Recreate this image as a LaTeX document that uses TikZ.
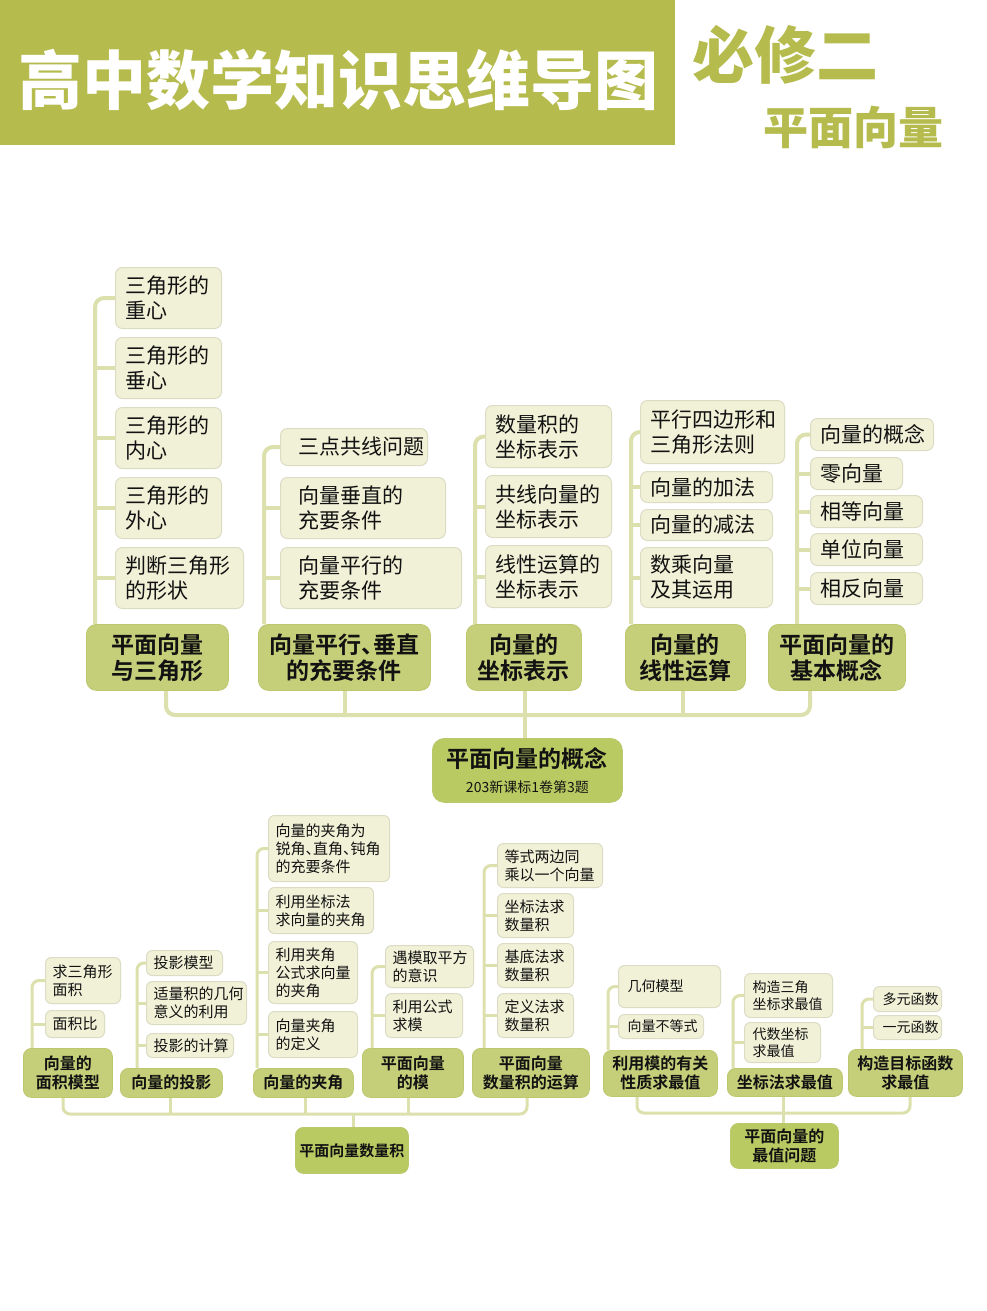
\documentclass[tikz,border=0pt]{standalone}
\usepackage{fontspec}
\setmainfont{Noto Sans CJK SC}[BoldFont={Noto Sans CJK SC Bold}]
\newfontfamily\heavyfont{Noto Sans CJK SC Black}
\definecolor{headgreen}{RGB}{181,187,77}
\definecolor{catfill}{RGB}{197,207,121}
\definecolor{catline}{RGB}{188,199,110}
\definecolor{midfill}{RGB}{186,202,98}
\definecolor{leaffill}{RGB}{241,241,216}
\definecolor{leafline}{RGB}{220,220,196}
\definecolor{linkclr}{RGB}{220,224,172}
\definecolor{txt}{RGB}{18,18,18}
\newcommand{\dunhao}{\makebox[.5em][l]{、}}

\begin{document}
\begin{tikzpicture}[x=1pt, y=-1pt,
    leaf/.style={anchor=north west, rounded corners=7pt, fill=leaffill, draw=leafline, line width=1pt, align=left, inner xsep=10pt, inner ysep=0pt, text=txt},
    bigleaf/.style={leaf, font=\fontsize{21}{25}\selectfont},
    smallleaf/.style={leaf, rounded corners=6pt, inner xsep=7pt, font=\fontsize{15}{18}\selectfont},
    tinyleaf/.style={leaf, rounded corners=6pt, inner xsep=9pt, font=\fontsize{14}{17}\selectfont},
    topic/.style={anchor=north west, rounded corners=10pt, fill=catfill, draw=catline, line width=.8pt, align=center, inner sep=0pt, text=txt, font=\bfseries\fontsize{23}{26}\selectfont},
    subtopic/.style={topic, rounded corners=8pt, font=\bfseries\fontsize{16}{19}\selectfont},
    link/.style={draw=linkclr, line width=4pt, rounded corners=9pt},
    thinlink/.style={draw=linkclr, line width=3pt, rounded corners=7pt}]
    \fill[white] (0,0) rectangle (987,1311);
    \useasboundingbox (0,0) rectangle (987,1311);

    % header
    \fill[headgreen] (0,0) rectangle (675,145);
    \node[white, font=\heavyfont\fontsize{64}{64}\selectfont] (title) at (338,80) {高中数学知识思维导图};
    \node[headgreen, font=\heavyfont\fontsize{62}{62}\selectfont] (book) at (785,55) {必修二};
    \node[headgreen, font=\heavyfont\fontsize{45}{45}\selectfont] (unit) at (853,127) {平面向量};

    % upper map
    \node[bigleaf, text width=86pt, minimum height=61pt] (a1) at (115,267) {三角形的\\重心};
    \node[bigleaf, text width=86pt, minimum height=61pt] (a2) at (115,337) {三角形的\\垂心};
    \node[bigleaf, text width=86pt, minimum height=61pt] (a3) at (115,407) {三角形的\\内心};
    \node[bigleaf, text width=86pt, minimum height=61pt] (a4) at (115,477) {三角形的\\外心};
    \node[bigleaf, text width=108pt, minimum height=61pt] (a5) at (115,547) {判断三角形\\的形状};
    \node[topic, minimum width=142pt, minimum height=66pt] (c1) at (86,624) {平面向量\\与三角形};

    \node[bigleaf, inner xsep=18pt, text width=111pt, minimum height=37pt] (b1) at (280,428) {三点共线问题};
    \node[bigleaf, inner xsep=18pt, text width=129pt, minimum height=61pt] (b2) at (280,477) {向量垂直的\\充要条件};
    \node[bigleaf, inner xsep=18pt, text width=145pt, minimum height=61pt] (b3) at (280,547) {向量平行的\\充要条件};
    \node[topic, minimum width=172pt, minimum height=66pt] (c2) at (258,624) {向量平行\dunhao 垂直\\的充要条件};

    \node[bigleaf, text width=106pt, minimum height=62pt] (d1) at (485,405) {数量积的\\坐标表示};
    \node[bigleaf, text width=106pt, minimum height=62pt] (d2) at (485,475) {共线向量的\\坐标表示};
    \node[bigleaf, text width=106pt, minimum height=62pt] (d3) at (485,545) {线性运算的\\坐标表示};
    \node[topic, minimum width=115pt, minimum height=66pt] (c3) at (466,624) {向量的\\坐标表示};

    \node[bigleaf, text width=124pt, minimum height=63pt] (e1) at (640,400) {平行四边形和\\三角形法则};
    \node[bigleaf, text width=112pt, minimum height=31pt] (e2) at (640,471) {向量的加法};
    \node[bigleaf, text width=112pt, minimum height=31pt] (e3) at (640,509) {向量的减法};
    \node[bigleaf, text width=112pt, minimum height=60pt] (e4) at (640,547) {数乘向量\\及其运用};
    \node[topic, minimum width=120pt, minimum height=66pt] (c4) at (625,624) {向量的\\线性运算};

    \node[bigleaf, text width=103pt, minimum height=32pt] (f1) at (810,418) {向量的概念};
    \node[bigleaf, text width=72pt, minimum height=32pt] (f2) at (810,457) {零向量};
    \node[bigleaf, text width=92pt, minimum height=32pt] (f3) at (810,495) {相等向量};
    \node[bigleaf, text width=92pt, minimum height=32pt] (f4) at (810,533) {单位向量};
    \node[bigleaf, text width=92pt, minimum height=32pt] (f5) at (810,572) {相反向量};
    \node[topic, minimum width=137pt, minimum height=66pt] (c5) at (768,624) {平面向量的\\基本概念};

    \node[topic, fill=midfill, rounded corners=12pt, minimum width=190pt, minimum height=64pt] (cm) at (432,738) {平面向量的概念\\[-1pt]{\mdseries\fontsize{14}{16}\selectfont 203新课标1卷第3题}};

    \coordinate (v1) at (95,0);
    \coordinate (v2) at (264,0);
    \coordinate (v3) at (475,0);
    \coordinate (v4) at (631,0);
    \coordinate (v5) at (797,0);
    \draw[link] (a1.west) -| (v1 |- c1.north);
    \foreach \n in {a2,a3,a4,a5} \draw[link] (\n.west) -- (v1 |- \n.west);
    \draw[link] (b1.west) -| (v2 |- c2.north);
    \foreach \n in {b2,b3} \draw[link] (\n.west) -- (v2 |- \n.west);
    \draw[link] (d1.west) -| (v3 |- c3.north);
    \foreach \n in {d2,d3} \draw[link] (\n.west) -- (v3 |- \n.west);
    \draw[link] (e1.west) -| (v4 |- c4.north);
    \foreach \n in {e2,e3,e4} \draw[link] (\n.west) -- (v4 |- \n.west);
    \draw[link] (f1.west) -| (v5 |- c5.north);
    \foreach \n in {f2,f3,f4,f5} \draw[link] (\n.west) -- (v5 |- \n.west);

    \coordinate (t1) at (166,715);
    \coordinate (t2) at (345,715);
    \coordinate (t3) at (525,715);
    \coordinate (t4) at (683,715);
    \coordinate (t5) at (810,715);
    \draw[link] (t1 |- c1.south) |- (t3) -| (t5 |- c5.south);
    \draw[link] (t2 |- c2.south) -- (t2);
    \draw[link] (t4 |- c4.south) -- (t4);
    \draw[link] (t3 |- c3.south) -- (t3 |- cm.north);

    % lower left map
    \node[smallleaf, text width=61pt, minimum height=46pt] (g1) at (45,957) {求三角形\\面积};
    \node[smallleaf, text width=45pt, minimum height=27pt] (g2) at (45,1010) {面积比};
    \node[subtopic, minimum width=89pt, minimum height=49pt] (h1) at (23,1048) {向量的\\面积模型};

    \node[smallleaf, text width=62pt, minimum height=25pt] (g3) at (146,950) {投影模型};
    \node[smallleaf, text width=86pt, minimum height=43pt] (g4) at (146,981) {适量积的几何\\意义的利用};
    \node[smallleaf, text width=73pt, minimum height=24pt] (g5) at (146,1033) {投影的计算};
    \node[subtopic, minimum width=102pt, minimum height=29pt] (h2) at (120,1068) {向量的投影};

    \node[smallleaf, text width=107pt, minimum height=66pt] (g6) at (268,815) {向量的夹角为\\锐角\dunhao 直角\dunhao 钝角\\的充要条件};
    \node[smallleaf, text width=91pt, minimum height=46pt] (g7) at (268,887) {利用坐标法\\求向量的夹角};
    \node[smallleaf, text width=75pt, minimum height=62pt] (g8) at (268,941) {利用夹角\\公式求向量\\的夹角};
    \node[smallleaf, text width=75pt, minimum height=46pt] (g9) at (268,1011) {向量夹角\\的定义};
    \node[subtopic, minimum width=100pt, minimum height=29pt] (h3) at (253,1068) {向量的夹角};

    \node[smallleaf, text width=74pt, minimum height=42pt] (g10) at (385,945) {遇模取平方\\的意识};
    \node[smallleaf, text width=63pt, minimum height=44pt] (g11) at (385,993) {利用公式\\求模};
    \node[subtopic, minimum width=101pt, minimum height=49pt] (h4) at (362,1048) {平面向量\\的模};

    \node[smallleaf, text width=91pt, minimum height=44pt] (g12) at (497,843) {等式两边同\\乘以一个向量};
    \node[smallleaf, text width=62pt, minimum height=44pt] (g13) at (497,893) {坐标法求\\数量积};
    \node[smallleaf, text width=62pt, minimum height=44pt] (g14) at (497,943) {基底法求\\数量积};
    \node[smallleaf, text width=62pt, minimum height=44pt] (g15) at (497,993) {定义法求\\数量积};
    \node[subtopic, minimum width=117pt, minimum height=49pt] (h5) at (472,1048) {平面向量\\数量积的运算};

    \node[subtopic, fill=midfill, font=\bfseries\fontsize{15}{18}\selectfont, minimum width=113pt, minimum height=46pt] (hm) at (295,1127) {平面向量数量积};

    \coordinate (w1) at (32,0);
    \coordinate (w2) at (137,0);
    \coordinate (w3) at (257,0);
    \coordinate (w4) at (372,0);
    \coordinate (w5) at (484,0);
    \draw[thinlink] (g1.west) -| (w1 |- h1.north);
    \draw[thinlink] (g2.west) -- (w1 |- g2.west);
    \draw[thinlink] (g3.west) -| (w2 |- h2.north);
    \foreach \n in {g4,g5} \draw[thinlink] (\n.west) -- (w2 |- \n.west);
    \draw[thinlink] (g6.west) -| (w3 |- h3.north);
    \foreach \n in {g7,g8,g9} \draw[thinlink] (\n.west) -- (w3 |- \n.west);
    \draw[thinlink] (g10.west) -| (w4 |- h4.north);
    \draw[thinlink] (g11.west) -- (w4 |- g11.west);
    \draw[thinlink] (g12.west) -| (w5 |- h5.north);
    \foreach \n in {g13,g14,g15} \draw[thinlink] (\n.west) -- (w5 |- \n.west);

    \coordinate (s1) at (63,1114);
    \coordinate (s2) at (170,1114);
    \coordinate (s3) at (305,1114);
    \coordinate (s4) at (408,1114);
    \coordinate (s5) at (527,1114);
    \coordinate (sm) at (353,1114);
    \draw[thinlink] (s1 |- h1.south) |- (sm) -| (s5 |- h5.south);
    \draw[thinlink] (s2 |- h2.south) -- (s2);
    \draw[thinlink] (s3 |- h3.south) -- (s3);
    \draw[thinlink] (s4 |- h4.south) -- (s4);
    \draw[thinlink] (sm) -- (sm |- hm.north);

    % lower right map
    \node[tinyleaf, text width=84pt, minimum height=42pt] (k1) at (618,965) {几何模型};
    \node[tinyleaf, text width=67pt, minimum height=24pt] (k2) at (618,1014) {向量不等式};
    \node[subtopic, minimum width=114pt, minimum height=46pt] (m1) at (603,1050) {利用模的有关\\性质求最值};

    \node[tinyleaf, inner xsep=8pt, text width=72pt, minimum height=44pt] (k3) at (744,973) {构造三角\\坐标求最值};
    \node[tinyleaf, inner xsep=8pt, text width=60pt, minimum height=40pt] (k4) at (744,1022) {代数坐标\\求最值};
    \node[subtopic, minimum width=115pt, minimum height=28pt] (m2) at (727,1068) {坐标法求最值};

    \node[tinyleaf, text width=50pt, minimum height=25pt] (k5) at (873,986) {多元函数};
    \node[tinyleaf, text width=50pt, minimum height=24pt] (k6) at (873,1015) {一元函数};
    \node[subtopic, minimum width=114pt, minimum height=47pt] (m3) at (848,1049) {构造目标函数\\求最值};

    \node[subtopic, fill=midfill, minimum width=108pt, minimum height=45pt] (mm) at (730,1123) {平面向量的\\最值问题};

    \coordinate (u1) at (608,0);
    \coordinate (u2) at (733,0);
    \coordinate (u3) at (862,0);
    \draw[thinlink] (k1.west) -| (u1 |- m1.north);
    \draw[thinlink] (k2.west) -- (u1 |- k2.west);
    \draw[thinlink] (k3.west) -| (u2 |- m2.north);
    \draw[thinlink] (k4.west) -- (u2 |- k4.west);
    \draw[thinlink] (k5.west) -| (u3 |- m3.north);
    \draw[thinlink] (k6.west) -- (u3 |- k6.west);

    \coordinate (r1) at (637,1113);
    \coordinate (r2) at (783,1113);
    \coordinate (r3) at (910,1113);
    \draw[thinlink] (r1 |- m1.south) |- (r2) -| (r3 |- m3.south);
    \draw[thinlink] (r2 |- m2.south) -- (r2 |- mm.north);
\end{tikzpicture}
\end{document}
